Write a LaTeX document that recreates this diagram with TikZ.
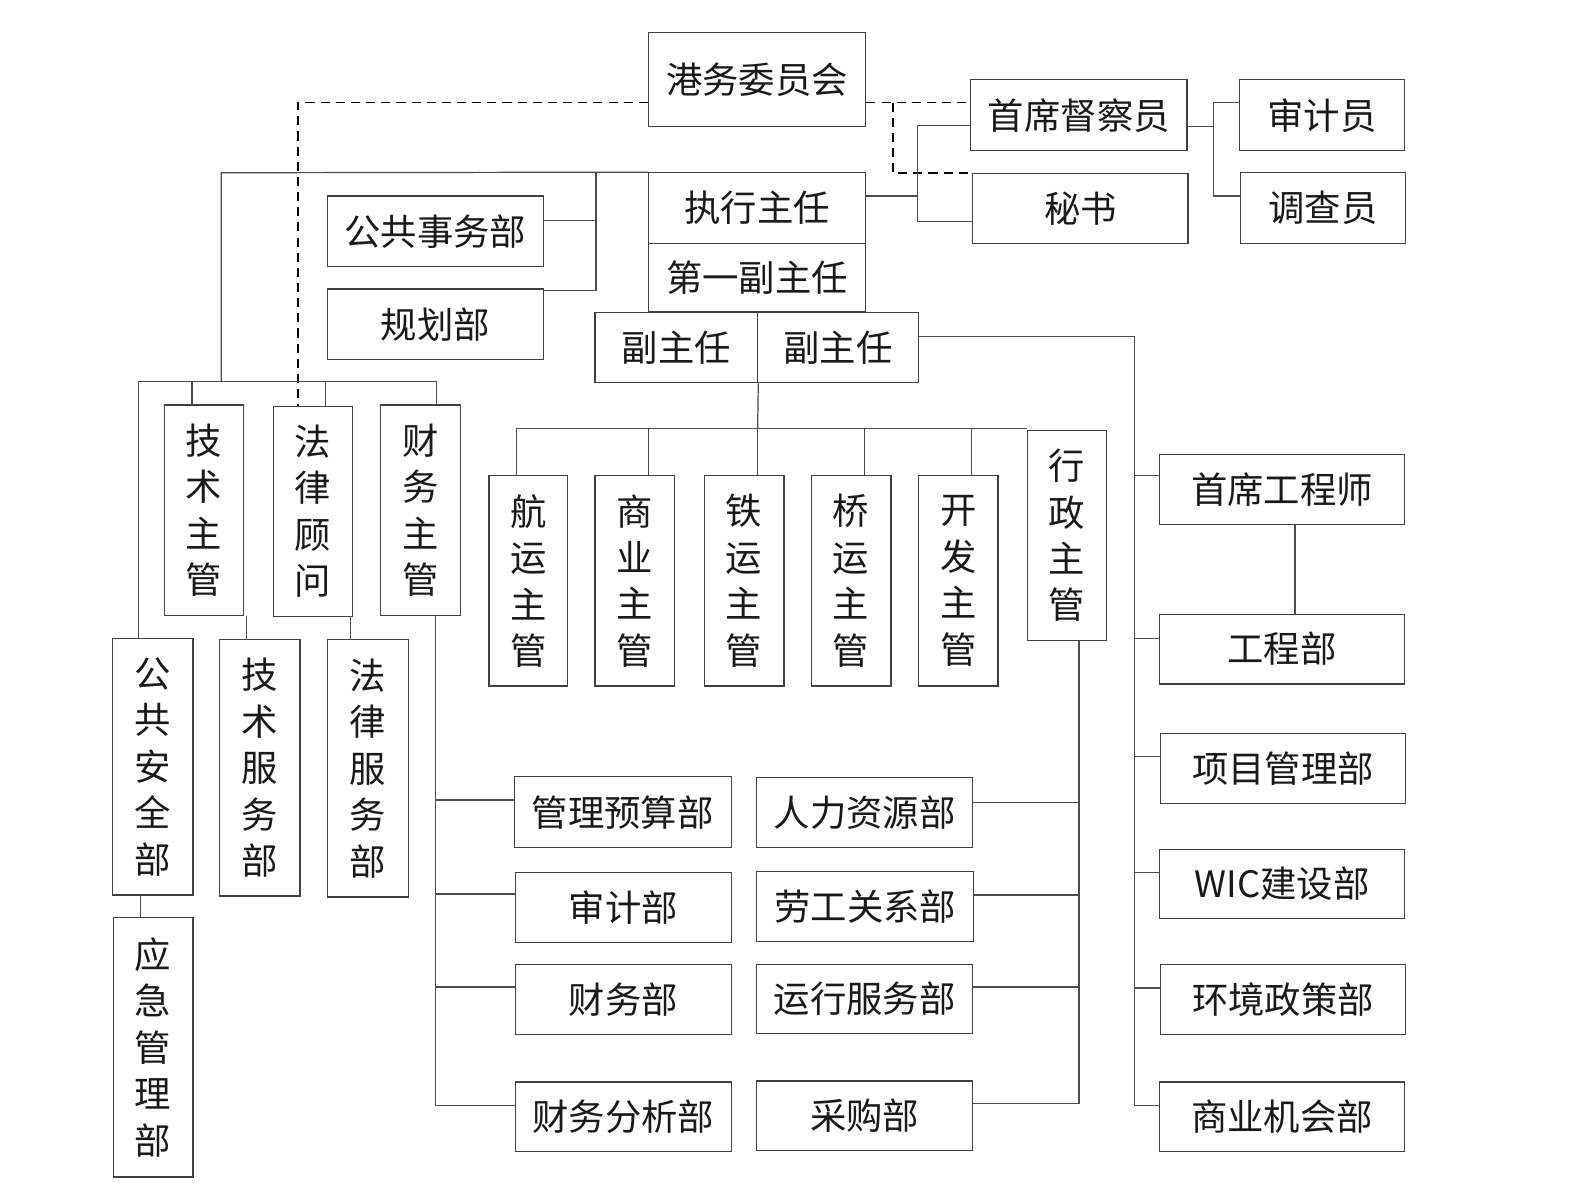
\documentclass[tikz,border=0pt]{standalone}
\usepackage{fontspec}
\newfontfamily\cjk{Noto Sans CJK SC}
\begin{document}
\begin{tikzpicture}[x=1pt,y=-1pt,
  box/.style={draw=black!75, line width=1.2pt, inner sep=0pt, text=black!90,
    font=\cjk\fontsize{36}{46}\selectfont, align=center},
  bx/.style 2 args={box, minimum width=#1pt, minimum height=#2pt},
  ln/.style={draw=black!70, line width=1.2pt},
  dsh/.style={draw=black, line width=1.7pt, dash pattern=on 9pt off 6pt}]
\useasboundingbox (0,0) rectangle (1568,1187);

% top
\node[bx={215}{93}] (hw) at (749.5,78.5) {港务委员会};
\node[bx={214}{70}] (sdc) at (1068,114) {首席督察员};
\node[bx={213}{69}] (ms) at (1069.5,206.5) {秘书};
\node[bx={163}{70}] (sjy) at (1308.5,114) {审计员};
\node[bx={163}{70}] (dcy) at (1309.5,206) {调查员};
\node[bx={215}{70}] (zx) at (749.5,206) {执行主任};
\node[bx={215}{67}] (dy) at (749.5,274.5) {第一副主任};
\node[bx={161}{70}] (fz1) at (669.5,344) {副主任};
\node[bx={159}{70}] (fz2) at (829.5,344) {副主任};
\node[bx={214}{70}] (ggsw) at (431,229) {公共事务部};
\node[bx={214}{70}] (ghb) at (431,321) {规划部};

% left vertical boxes
\node[bx={78}{208}] (jszg) at (202,505) {技\\术\\主\\管};
\node[bx={78}{208}] (flgw) at (310,506) {法\\律\\顾\\问};
\node[bx={79}{208}] (cwzg) at (416.5,505) {财\\务\\主\\管};
\node[bx={80}{254}] (ggaq) at (151,759) {公\\共\\安\\全\\部};
\node[bx={80}{254}] (jsfw) at (257,760) {技\\术\\服\\务\\部};
\node[bx={80}{255}] (flfw) at (364,760.5) {法\\律\\服\\务\\部};
\node[bx={79}{257}] (yjgl) at (151.5,1036.5) {应\\急\\管\\理\\部};

% middle vertical boxes
\node[bx={78}{208}] (hy) at (523,575) {航\\运\\主\\管};
\node[bx={79}{208}] (sy) at (628.5,575) {商\\业\\主\\管};
\node[bx={79}{208}] (ty) at (736.5,575) {铁\\运\\主\\管};
\node[bx={79}{208}] (qy) at (842.5,575) {桥\\运\\主\\管};
\node[bx={79}{208}] (kf) at (948.5,575) {开\\发\\主\\管};
\node[bx={78}{208}] (xz) at (1056,530) {行\\政\\主\\管};

% lower departments
\node[bx={215}{70}] (glys) at (616.5,804) {管理预算部};
\node[bx={214}{69}] (sjb) at (617,898.5) {审计部};
\node[bx={214}{69}] (cwb) at (617,989.5) {财务部};
\node[bx={214}{69}] (cwfx) at (617,1105.5) {财务分析部};
\node[bx={214}{69}] (rlzy) at (856,804.5) {人力资源部};
\node[bx={215}{69}] (lggx) at (856.5,897.5) {劳工关系部};
\node[bx={214}{68}] (yxfw) at (856,989) {运行服务部};
\node[bx={214}{69}] (cgb) at (856,1104.5) {采购部};

% right column
\node[bx={242}{69}] (sgcs) at (1269,484.5) {首席工程师};
\node[bx={242}{69}] (gcb) at (1269,642.5) {工程部};
\node[bx={242}{69}] (xmgl) at (1270,760.5) {项目管理部};
\node[bx={242}{68}] (wic) at (1269,875) {WIC建设部};
\node[bx={242}{69}] (hjzc) at (1270,989.5) {环境政策部};
\node[bx={242}{69}] (syjh) at (1269,1105.5) {商业机会部};

% dashed links
\coordinate (dl) at (295,101.5);
\coordinate (dr) at (884,101.5);
\draw[dsh] (hw.west |- dl) -- (dl) -- (dl |- flgw.north);
\draw[dsh] (hw.east |- dl) -- (sdc.west |- dl);
\draw[dsh] (dr) |- (ms.north west);

% executive to inspector / secretary
\coordinate (zb) at (908,194);
\draw[ln] (zx.east |- zb) -- (zb);
\draw[ln] ([yshift=-10pt]sdc.west) -| (zb) |- ([yshift=-12.5pt]ms.west);

% inspector to auditor / investigator
\coordinate (rb) at (1201,125);
\draw[ln] ([yshift=-11pt]sdc.east) -- (rb);
\draw[ln] ([yshift=12.5pt]sjy.west) -| (rb) |- ([yshift=12pt]dcy.west);

% top line to left group
\coordinate (tl) at (219,171);
\coordinate (lb) at (137,378);
\coordinate (rbx) at (432,378);
\draw[ln] (zx.north west) -- (tl) -- (tl |- lb);
\draw[ln] (lb |- ggaq.north) -- (lb) -- (rbx) -- (rbx |- cwzg.north);
\coordinate (jx) at (190,378);
\draw[ln] (jx) -- (jx |- jszg.north);
\coordinate (fx) at (322,378);
\draw[ln] (fx) -- (fx |- flgw.north);
\coordinate (pa) at (590,171);
\draw[ln] (pa) |- ([yshift=-2pt]ghb.north east);
\draw[ln] ([yshift=11pt]ggsw.east) -| (pa);

% left sub links
\coordinate (c1) at (244,620);
\draw[ln] (c1 |- jszg.south) -- (c1 |- jsfw.north);
\coordinate (c2) at (347,620);
\draw[ln] (c2 |- flgw.south) -- (c2 |- flfw.north);
\coordinate (c3) at (139,900);
\draw[ln] (c3 |- ggaq.south) -- (c3 |- yjgl.north);

% finance bus
\coordinate (cb) at (431,1094);
\draw[ln] (cb |- cwzg.south) -- (cb) -- ([yshift=11.5pt]cwfx.west);
\draw[ln] ([yshift=12pt]glys.west) -| (cb);
\draw[ln] ([yshift=13.5pt]sjb.west) -| (cb);
\draw[ln] ([yshift=12.5pt]cwb.west) -| (cb);

% deputy bus
\coordinate (mb) at (750,424);
\coordinate (b1) at (511,424);
\coordinate (b2) at (642,424);
\coordinate (b4) at (856,424);
\coordinate (b5) at (962,424);
\draw[ln] (fz1.south east) -- (mb);
\draw[ln] (b1 |- hy.north) -- (b1) -- (mb -| xz.west);
\draw[ln] (b2) -- (b2 |- sy.north);
\draw[ln] (mb) -- (mb |- ty.north);
\draw[ln] (b4) -- (b4 |- qy.north);
\draw[ln] (b5) -- (b5 |- kf.north);

% admin bus
\coordinate (xb) at (1068,1092);
\draw[ln] (xb |- xz.south) -- (xb) -- ([yshift=12.5pt]cgb.east);
\draw[ln] ([yshift=10.5pt]rlzy.east) -| (xb);
\draw[ln] ([yshift=11.5pt]lggx.east) -| (xb);
\draw[ln] ([yshift=12pt]yxfw.east) -| (xb);

% engineering bus
\coordinate (eb) at (1123,1094);
\draw[ln] ([yshift=11pt]fz2.east) -| (eb) -- ([yshift=11.5pt]syjh.west);
\draw[ln] ([yshift=13.5pt]sgcs.west) -| (eb);
\draw[ln] ([yshift=10.5pt]gcb.west) -| (eb);
\draw[ln] ([yshift=11.5pt]xmgl.west) -| (eb);
\draw[ln] ([yshift=11pt]wic.west) -| (eb);
\draw[ln] ([yshift=11.5pt]hjzc.west) -| (eb);
\coordinate (gx) at (1282,560);
\draw[ln] (gx |- sgcs.south) -- (gx |- gcb.north);
\end{tikzpicture}
\end{document}
